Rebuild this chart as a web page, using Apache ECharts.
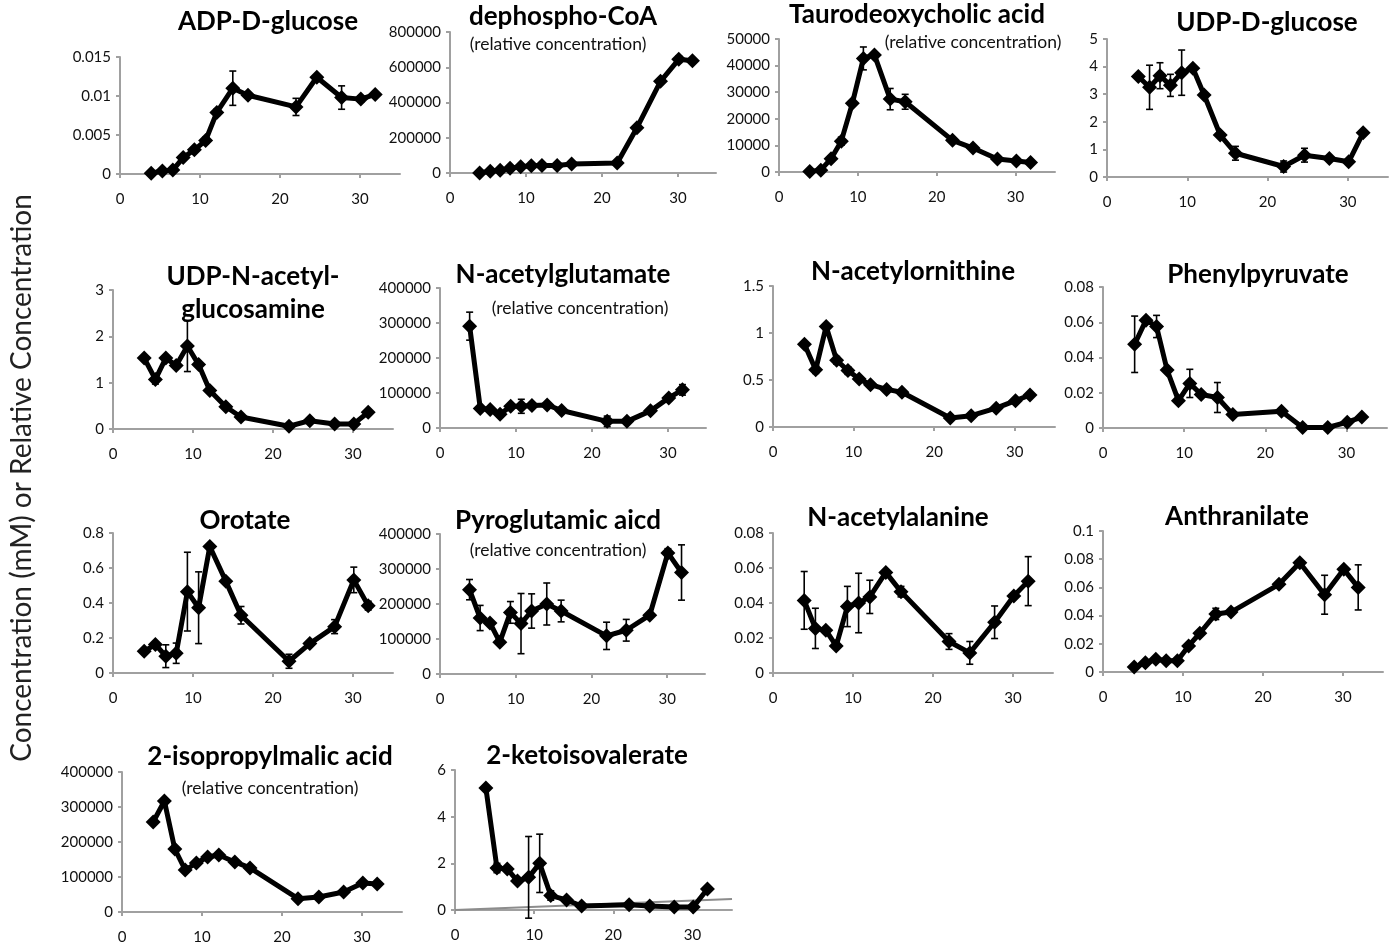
<!DOCTYPE html>
<html>
<head>
<meta charset="utf-8">
<script src="https://cdn.jsdelivr.net/npm/echarts@6/dist/echarts.min.js"></script>
<style>
  html, body { margin: 0; padding: 0; background: #fff; }
  #chart { width: 1393px; height: 949px; }
</style>
</head>
<body>
<div id="chart"></div>
<script>
// Sampling times (h), shared by every metabolite
const hours = [3.9, 5.3, 6.6, 7.9, 9.3, 10.7, 12.1, 14.1, 16.0, 22.0, 24.6, 27.7, 30.1, 31.9];
const xTicks = [0, 10, 20, 30];

// Mean values and error (±) for each metabolite
const adpGlucose    = [0.0001, 0.0004, 0.0005, 0.0021, 0.0031, 0.0043, 0.0079, 0.0110, 0.0101, 0.0086, 0.0124, 0.0098, 0.0096, 0.0102];
const adpGlucoseErr = [0, 0, 0.0002, 0.0003, 0.0003, 0.0004, 0.0004, 0.0022, 0.0003, 0.0011, 0.0003, 0.0015, 0.0004, 0.0003];

const dephosphoCoA    = [0, 9500, 15000, 27000, 36000, 41000, 42000, 43000, 51000, 57000, 257000, 520000, 645000, 637000];
const dephosphoCoAErr = [0, 0, 0, 0, 0, 0, 0, 0, 0, 0, 0, 0, 18000, 0];

const taurodeoxycholic    = [200, 700, 5000, 11600, 25800, 42700, 44000, 27400, 26400, 11900, 9000, 4900, 4100, 3600];
const taurodeoxycholicErr = [0, 0, 1000, 1500, 0, 4300, 0, 4000, 2800, 0, 0, 0, 0, 0];

const udpGlucose    = [3.64, 3.25, 3.67, 3.32, 3.78, 3.94, 2.97, 1.52, 0.86, 0.38, 0.79, 0.67, 0.55, 1.60];
const udpGlucoseErr = [0, 0.8, 0.47, 0.4, 0.82, 0, 0, 0, 0.25, 0.2, 0.25, 0, 0, 0];

const udpGlcNAc    = [1.53, 1.07, 1.53, 1.37, 1.79, 1.39, 0.83, 0.48, 0.26, 0.06, 0.18, 0.11, 0.11, 0.36];
const udpGlcNAcErr = [0, 0.1, 0, 0, 0.55, 0, 0, 0, 0, 0, 0, 0, 0, 0];

const acetylglutamate    = [291000, 56000, 53000, 39000, 62000, 62000, 64000, 66000, 50000, 19000, 19000, 49000, 86000, 109000];
const acetylglutamateErr = [40000, 0, 0, 8000, 0, 20000, 0, 0, 0, 15000, 0, 8000, 8000, 15000];

const acetylornithine    = [0.88, 0.61, 1.07, 0.71, 0.60, 0.51, 0.45, 0.40, 0.37, 0.095, 0.12, 0.20, 0.28, 0.34];
const acetylornithineErr = [0, 0.04, 0, 0.04, 0.04, 0, 0, 0, 0, 0, 0, 0, 0, 0];

const phenylpyruvate    = [0.0475, 0.0612, 0.0576, 0.0329, 0.0155, 0.0253, 0.019, 0.0173, 0.0077, 0.0095, 0.0003, 0.0003, 0.0033, 0.0062];
const phenylpyruvateErr = [0.016, 0.001, 0.0063, 0, 0, 0.008, 0, 0.0085, 0.001, 0, 0, 0, 0, 0];

const orotate    = [0.124, 0.163, 0.096, 0.113, 0.465, 0.373, 0.723, 0.525, 0.33, 0.067, 0.168, 0.265, 0.532, 0.385];
const orotateErr = [0, 0, 0.065, 0.058, 0.225, 0.205, 0, 0, 0.05, 0.04, 0, 0.04, 0.073, 0.025];

const pyroglutamic    = [241000, 160000, 146000, 91000, 176000, 144000, 180000, 200000, 180000, 109000, 125000, 168000, 346000, 290000];
const pyroglutamicErr = [29000, 36000, 0, 0, 31000, 86000, 49000, 60000, 31000, 39000, 31000, 0, 12000, 79000];

const acetylalanine    = [0.0415, 0.0255, 0.0245, 0.0155, 0.038, 0.040, 0.0435, 0.0575, 0.0465, 0.018, 0.0115, 0.029, 0.0440, 0.0525];
const acetylalanineErr = [0.0165, 0.0115, 0, 0, 0.0115, 0.017, 0.0095, 0, 0.003, 0.0045, 0.0065, 0.0093, 0, 0.014];

const anthranilate    = [0.0035, 0.0065, 0.009, 0.008, 0.008, 0.0185, 0.0275, 0.0412, 0.0425, 0.0622, 0.0775, 0.0548, 0.0728, 0.060];
const anthranilateErr = [0, 0, 0, 0, 0, 0, 0, 0.004, 0, 0, 0, 0.0138, 0, 0.016];

const isopropylmalic    = [257000, 317000, 180000, 120000, 140000, 157000, 163000, 143000, 126000, 38000, 43000, 57000, 83000, 80000];
const isopropylmalicErr = [0, 0, 0, 0, 0, 0, 0, 0, 0, 0, 0, 0, 0, 0];

const ketoisovalerate    = [5.23, 1.8, 1.76, 1.24, 1.4, 2.0, 0.62, 0.43, 0.17, 0.22, 0.17, 0.13, 0.13, 0.9];
const ketoisovalerateErr = [0, 0.2, 0, 0, 1.75, 1.25, 0.2, 0, 0, 0, 0, 0, 0, 0];
// linear trend line of 2-ketoisovalerate
const ketoisovalerateTrend = [[0, 0], [35, 0.47]];

// Panel layout: grid box [left, top, width, height], y-axis range and titles
const panels = [
  { values: adpGlucose, errors: adpGlucoseErr, yMax: 0.015, yStep: 0.005, box: [120, 57, 280, 117],
    title: ['ADP-D-glucose'], titleAt: [268, 22] },
  { values: dephosphoCoA, errors: dephosphoCoAErr, yMax: 800000, yStep: 200000, box: [450, 32, 266, 141],
    title: ['dephospho-CoA'], titleAt: [563, 17], sub: [558, 44] },
  { values: taurodeoxycholic, errors: taurodeoxycholicErr, yMax: 50000, yStep: 10000, box: [779, 39, 276, 133],
    title: ['Taurodeoxycholic acid'], titleAt: [917, 15], sub: [973, 42] },
  { values: udpGlucose, errors: udpGlucoseErr, yMax: 5, yStep: 1, box: [1107, 39, 281, 138],
    title: ['UDP-D-glucose'], titleAt: [1267, 23] },
  { values: udpGlcNAc, errors: udpGlcNAcErr, yMax: 3, yStep: 1, box: [113, 290, 280, 139],
    title: ['UDP-N-acetyl-', 'glucosamine'], titleAt: [253, 277] },
  { values: acetylglutamate, errors: acetylglutamateErr, yMax: 400000, yStep: 100000, box: [440, 288, 266, 140],
    title: ['N-acetylglutamate'], titleAt: [563, 275], sub: [580, 308] },
  { values: acetylornithine, errors: acetylornithineErr, yMax: 1.5, yStep: 0.5, box: [773, 286, 282, 141],
    title: ['N-acetylornithine'], titleAt: [913, 272] },
  { values: phenylpyruvate, errors: phenylpyruvateErr, yMax: 0.08, yStep: 0.02, box: [1103, 287, 284, 141],
    title: ['Phenylpyruvate'], titleAt: [1258, 275] },
  { values: orotate, errors: orotateErr, yMax: 0.8, yStep: 0.2, box: [113, 533, 280, 140],
    title: ['Orotate'], titleAt: [245, 521] },
  { values: pyroglutamic, errors: pyroglutamicErr, yMax: 400000, yStep: 100000, box: [440, 534, 265, 140],
    title: ['Pyroglutamic aicd'], titleAt: [558, 521], sub: [558, 550] },
  { values: acetylalanine, errors: acetylalanineErr, yMax: 0.08, yStep: 0.02, box: [773, 533, 280, 140],
    title: ['N-acetylalanine'], titleAt: [898, 518] },
  { values: anthranilate, errors: anthranilateErr, yMax: 0.1, yStep: 0.02, box: [1103, 531, 280, 141],
    title: ['Anthranilate'], titleAt: [1237, 517] },
  { values: isopropylmalic, errors: isopropylmalicErr, yMax: 400000, yStep: 100000, box: [122, 772, 280, 140],
    title: ['2-isopropylmalic acid'], titleAt: [270, 757], sub: [270, 788] },
  { values: ketoisovalerate, errors: ketoisovalerateErr, yMax: 6, yStep: 2, box: [455, 770, 277, 140],
    title: ['2-ketoisovalerate'], titleAt: [587, 756], trend: ketoisovalerateTrend }
];

const FONT = 'Lato, "Open Sans", sans-serif';
const AXIS_GREY = '#a0a0a0';

const grids = [], xAxes = [], yAxes = [], series = [], texts = [];

panels.forEach((p, i) => {
  const [left, top, width, height] = p.box;
  grids.push({ left, top, width, height, containLabel: false });

  xAxes.push({
    type: 'value', gridIndex: i, min: 0, max: 35, interval: 10,
    axisLine: { show: true, onZero: false, lineStyle: { color: AXIS_GREY, width: 2 } },
    axisTick: { show: true, length: 4, customValues: xTicks, lineStyle: { color: AXIS_GREY, width: 2 } },
    axisLabel: { customValues: xTicks, margin: 18, color: '#111', fontSize: 15, fontFamily: FONT },
    splitLine: { show: false }
  });

  yAxes.push({
    type: 'value', gridIndex: i, min: 0, max: p.yMax, interval: p.yStep,
    axisLine: { show: true, lineStyle: { color: AXIS_GREY, width: 2 } },
    axisTick: { show: true, length: 4, lineStyle: { color: AXIS_GREY, width: 2 } },
    axisLabel: { margin: 9, color: '#111', fontSize: 15, fontFamily: FONT,
                 formatter: v => String(+v.toFixed(6)) },
    splitLine: { show: false }
  });

  if (p.trend) {
    series.push({
      type: 'line', xAxisIndex: i, yAxisIndex: i, data: p.trend,
      symbol: 'none', lineStyle: { color: '#8c8c8c', width: 2 }, z: 1, silent: true
    });
  }

  // error bars (mean ± error)
  const errData = [];
  hours.forEach((h, k) => {
    if (p.errors[k] > 0) errData.push([h, p.values[k] - p.errors[k], p.values[k] + p.errors[k]]);
  });
  series.push({
    type: 'custom', xAxisIndex: i, yAxisIndex: i, data: errData, z: 3, silent: true,
    renderItem: (params, api) => {
      const x = api.value(0);
      const lo = api.coord([x, api.value(1)]);
      const hi = api.coord([x, api.value(2)]);
      const cap = 3.5;
      const st = { stroke: '#000', lineWidth: 1.6 };
      return {
        type: 'group',
        children: [
          { type: 'line', shape: { x1: lo[0], y1: lo[1], x2: hi[0], y2: hi[1] }, style: st },
          { type: 'line', shape: { x1: lo[0] - cap, y1: lo[1], x2: lo[0] + cap, y2: lo[1] }, style: st },
          { type: 'line', shape: { x1: hi[0] - cap, y1: hi[1], x2: hi[0] + cap, y2: hi[1] }, style: st }
        ]
      };
    }
  });

  series.push({
    type: 'line', xAxisIndex: i, yAxisIndex: i, z: 2,
    data: hours.map((h, k) => [h, p.values[k]]),
    symbol: 'diamond', symbolSize: 15, showAllSymbol: true,
    lineStyle: { color: '#000', width: 5 },
    itemStyle: { color: '#000' }
  });

  p.title.forEach((line, li) => {
    texts.push({
      type: 'text', x: p.titleAt[0], y: p.titleAt[1] + li * 33,
      style: { text: line, font: 'bold 26px ' + FONT, fill: '#000',
               textAlign: 'center', textVerticalAlign: 'middle' }
    });
  });
  if (p.sub) {
    texts.push({
      type: 'text', x: p.sub[0], y: p.sub[1],
      style: { text: '(relative concentration)', font: '17.5px ' + FONT, fill: '#111',
               textAlign: 'center', textVerticalAlign: 'middle' }
    });
  }
});

// shared vertical axis title
texts.push({
  type: 'text', x: 22, y: 478, rotation: Math.PI / 2,
  style: { text: 'Concentration (mM) or Relative Concentration', font: '28px ' + FONT, fill: '#222',
           textAlign: 'center', textVerticalAlign: 'middle' }
});

const chart = echarts.init(document.getElementById('chart'), null, { renderer: 'canvas' });
chart.setOption({
  animation: false,
  backgroundColor: '#fff',
  grid: grids,
  xAxis: xAxes,
  yAxis: yAxes,
  series: series,
  graphic: texts
});
</script>
</body>
</html>
